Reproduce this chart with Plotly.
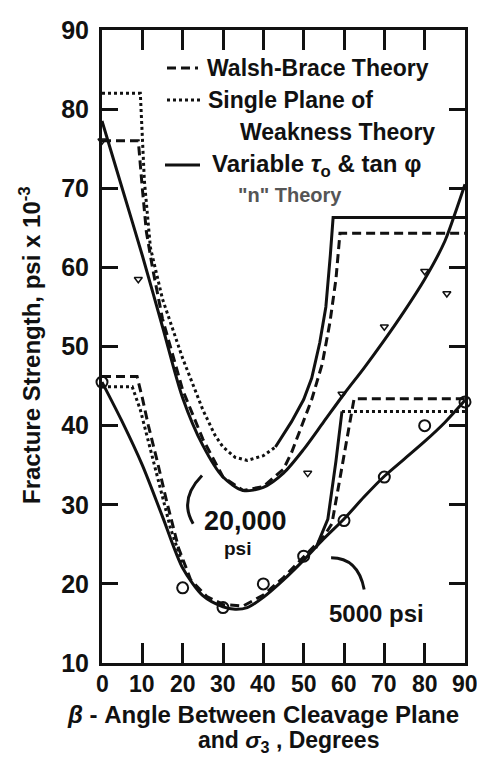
import plotly.graph_objects as go

# ---------------- data ----------------
# 20,000 psi group
up_var_x = [0, 5, 10, 15, 20, 25, 30, 35, 40, 45, 50, 55, 60, 65, 70, 75, 80, 85, 88, 90]
up_var_y = [78.5, 70, 61.5, 52.5, 43.5, 37.5, 33.5, 31.8, 32.2, 34, 37, 40.5, 44, 47.3, 50.8, 54.5, 58.5, 63.3, 67.5, 70.5]

up_wb_x = [0, 9, 10, 11, 12.5, 15, 20, 25, 30, 35, 40, 45, 47, 50, 52, 54.6, 56.5, 58, 58.6, 59, 90]
up_wb_y = [76, 76, 70, 64.5, 60, 53.5, 44.5, 38.3, 33.5, 31.8, 32.3, 34.5, 36.6, 40.5, 43.3, 47.8, 53, 58.5, 61.5, 64.3, 64.3]

up_sp_left_x = [0, 9.5, 10.5, 12, 15, 20, 25, 28, 30, 33, 36, 40, 43]
up_sp_left_y = [82, 82, 71, 62.5, 56, 48.5, 42, 38.8, 37.3, 36, 35.6, 36.2, 37.3]
up_sp_right_x = [43, 47, 50, 52, 54, 55.5, 56.6, 57.3, 90]
up_sp_right_y = [37.3, 40.5, 43.3, 46, 50.5, 55, 61.5, 66.3, 66.3]

up_pts_x = [0, 9, 51, 59.5, 70, 80, 85.5]
up_pts_y = [76, 58.5, 34, 44, 52.5, 59.5, 56.7]

# 5000 psi group
lo_var_x = [0, 5, 10, 15, 20, 25, 30, 33, 36, 40, 45, 50, 55, 60, 65, 70, 75, 80, 85, 90]
lo_var_y = [45.5, 40.5, 35, 28.5, 22.0, 18.5, 17.1, 16.8, 17, 18.3, 20.5, 23, 25.7, 28.2, 31, 33.6, 35.8, 38, 40.4, 43.2]

lo_wb_x = [0, 8.7, 10, 11.5, 13.7, 16, 19, 22, 26, 30, 35, 40, 45, 50, 53, 55, 57, 59, 61, 62.5, 90]
lo_wb_y = [46.2, 46.2, 43.5, 40, 35.5, 30.5, 24.5, 20.5, 18.4, 17.4, 17.2, 18.6, 20.8, 23.4, 24.9, 26, 27.6, 33.5, 39.5, 43.4, 43.4]

lo_sp_left_x = [0, 7.5, 9.5, 11.5, 14, 17, 20]
lo_sp_left_y = [44.9, 44.9, 42, 38, 33, 27, 22.5]
lo_sp_rise_x = [53, 56, 58, 59.5]
lo_sp_rise_y = [24.5, 28.2, 35.5, 41.8]
lo_sp_right_x = [59.5, 90]
lo_sp_right_y = [41.8, 41.8]

lo_pts_x = [0, 20, 30, 40, 50, 60, 70, 80, 90]
lo_pts_y = [45.5, 19.5, 17, 20, 23.5, 28, 33.5, 40, 43]

x_ticks = [0, 10, 20, 30, 40, 50, 60, 70, 80, 90]
y_ticks = [10, 20, 30, 40, 50, 60, 70, 80, 90]

legend_names = ["Walsh-Brace Theory", "Single Plane of", "Weakness Theory",
                "Variable <i>τ</i><sub>o</sub> & tan φ", "\"n\" Theory"]

# ---------------- layout geometry ----------------
# The page body has an 8px margin: the figure starts at (8, 8) in the window.
OFF = 8
W, H = 485, 759
PL, PT, PR, PB = 102, 30, 465, 663          # plot area edges in window pixels
L, T = PL - OFF, PT - OFF
R, B = W - (PR - OFF), H - (PB - OFF)
PW, PH = PR - PL, PB - PT


def px(x):
    return (x - PL) / PW


def py(y):
    return (PB - y) / PH


FONT = "Liberation Sans, Arial, sans-serif"
LW = 3
DASH = "9px,5px"
DOT = "3px,3px"
BLACK = "#111"

fig = go.Figure()


def add_line(x, y, dash="solid", shape="linear"):
    line = dict(color=BLACK, width=LW, dash=dash, shape=shape)
    if shape == "spline":
        line["smoothing"] = 0.8
    fig.add_trace(go.Scatter(x=x, y=y, mode="lines", line=line,
                             showlegend=False, hoverinfo="skip"))


add_line(up_var_x, up_var_y, shape="spline")
add_line(up_wb_x, up_wb_y, dash=DASH)
add_line(up_sp_left_x, up_sp_left_y, dash=DOT)
add_line(up_sp_right_x, up_sp_right_y)
add_line(lo_var_x, lo_var_y, shape="spline")
add_line(lo_wb_x, lo_wb_y, dash=DASH)
add_line(lo_sp_left_x, lo_sp_left_y, dash=DOT)
add_line(lo_sp_rise_x, lo_sp_rise_y)
add_line(lo_sp_right_x, lo_sp_right_y, dash=DOT)

fig.add_trace(go.Scatter(x=up_pts_x, y=up_pts_y, mode="markers",
                         marker=dict(symbol="triangle-down-open", size=7, color=BLACK,
                                     line=dict(width=1.5, color=BLACK)),
                         showlegend=False, hoverinfo="skip", cliponaxis=False))
fig.add_trace(go.Scatter(x=lo_pts_x, y=lo_pts_y, mode="markers",
                         marker=dict(symbol="circle-open", size=11, color=BLACK,
                                     line=dict(width=2, color=BLACK)),
                         showlegend=False, hoverinfo="skip", cliponaxis=False))

shapes = []
# legend samples
shapes.append(dict(type="line", xref="paper", yref="paper", x0=px(167), x1=px(198), y0=py(68), y1=py(68),
                   line=dict(color=BLACK, width=LW, dash="9px,5px")))
shapes.append(dict(type="line", xref="paper", yref="paper", x0=px(167), x1=px(200), y0=py(100), y1=py(100),
                   line=dict(color=BLACK, width=LW, dash="3px,3px")))
shapes.append(dict(type="line", xref="paper", yref="paper", x0=px(165), x1=px(200), y0=py(165), y1=py(165),
                   line=dict(color=BLACK, width=LW)))
# bracket for 20,000 psi and pointer for 5000 psi
shapes.append(dict(type="path", xref="x", yref="y", path="M 24.8,33.7 Q 19.0,30.7 22.6,27.6",
                   line=dict(color=BLACK, width=LW)))
shapes.append(dict(type="path", xref="x", yref="y", path="M 56.8,23.3 Q 63.5,23.3 65.0,19.3",
                   line=dict(color=BLACK, width=LW)))

annotations = []


def ann(text, x, y, size, xanchor="left", color=BLACK, angle=0, data=False, xdata=False):
    annotations.append(dict(text=text, x=x, y=y,
                            xref="x" if (data or xdata) else "paper", yref="y" if data else "paper",
                            showarrow=False, xanchor=xanchor, yanchor="middle", textangle=angle,
                            font=dict(family=FONT, size=size, color=color)))


ann("<b>" + legend_names[0] + "</b>", px(205), py(68), 23)
ann("<b>" + legend_names[1] + "</b>", px(206), py(100), 23)
ann("<b>" + legend_names[2] + "</b>", px(238), py(132), 23)
ann("<b>" + legend_names[3] + "</b>", px(210), py(165), 24)
ann("<b>" + legend_names[4] + "</b>", px(236), py(195), 20, color="#555")

ann("<b>20,000</b>", 35.7, 27.9, 27, xanchor="center", data=True)
ann("<b>psi</b>", 33.6, 24.5, 19, xanchor="center", data=True)
ann("<b>5000 psi</b>", 68.0, 16.3, 24, xanchor="center", data=True)

# x tick labels placed just below the axis
for v in x_ticks:
    ann("<b>" + str(v) + "</b>", v, py(684), 23, xanchor="center", xdata=True)

ann("<b>Fracture Strength, psi x 10<sup>-3</sup></b>", px(30), py(345), 24, xanchor="center", angle=-90)
ann("<b><i>β</i> - Angle Between Cleavage Plane</b>", px(263), py(714), 24, xanchor="center")
ann("<b>and <i>σ</i><sub>3</sub> , Degrees</b>", px(288), py(741), 23, xanchor="center")

fig.update_layout(
    width=W, height=H,
    margin=dict(l=L, r=R, t=T, b=B),
    paper_bgcolor="white", plot_bgcolor="white",
    shapes=shapes, annotations=annotations,
    xaxis=dict(range=[0, 90], tickvals=x_ticks, showticklabels=False, automargin=False,
               ticks="inside", ticklen=20, tickwidth=2.5, tickcolor=BLACK,
               showline=True, linewidth=3, linecolor=BLACK, mirror="ticks",
               showgrid=False, zeroline=False),
    yaxis=dict(range=[10, 90], tickvals=y_ticks, ticktext=[str(v) for v in y_ticks], automargin=False,
               ticks="inside", ticklen=16, tickwidth=2.5, tickcolor=BLACK,
               showline=True, linewidth=3, linecolor=BLACK, mirror="ticks",
               showgrid=False, zeroline=False, ticklabelstandoff=5,
               tickfont=dict(family=FONT, size=25, color=BLACK, weight="bold")),
)

fig.write_html("out.html")
